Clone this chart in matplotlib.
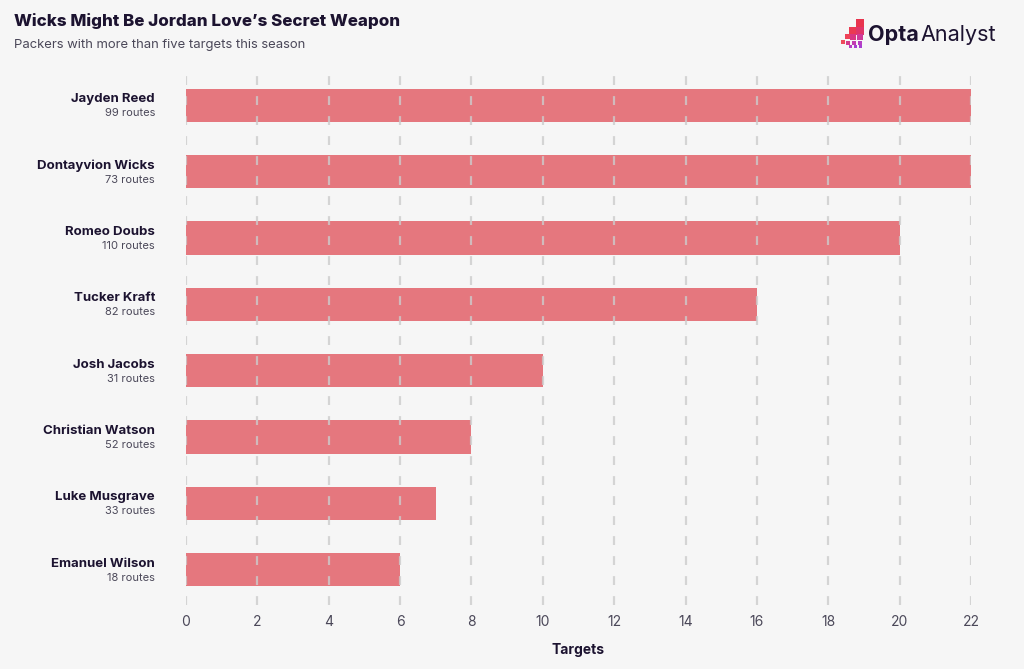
import matplotlib
matplotlib.use("Agg")
import matplotlib.pyplot as plt
from matplotlib.patches import Rectangle

players = ["Jayden Reed", "Dontayvion Wicks", "Romeo Doubs", "Tucker Kraft",
           "Josh Jacobs", "Christian Watson", "Luke Musgrave", "Emanuel Wilson"]
routes = [99, 73, 110, 82, 31, 52, 33, 18]
targets = [22, 22, 20, 16, 10, 8, 7, 6]
xticks = list(range(0, 23, 2))

BG = "#f6f6f6"
INK = "#1c1330"
GREY = "#4b4859"
BAR = "#e5737a"

plt.rcParams["font.family"] = ["Inter", "DejaVu Sans"]

fig = plt.figure(figsize=(10.24, 6.69), dpi=100, facecolor=BG)
ax = fig.add_axes([186 / 1024, 1 - 605 / 669, 785 / 1024, 535 / 669])
ax.set_facecolor(BG)

ypos = list(range(len(players)))
ax.barh(ypos, targets, height=0.5, color=BAR, alpha=0.97, zorder=2)

for x in xticks:
    ax.axvline(x, color="#cccccc", lw=1.6, ls=(0, (4, 5)), zorder=3, alpha=0.8)

ax.set_xlim(0, 22)
ax.set_ylim(len(players) - 0.465, -0.535)
ax.set_xticks(xticks)
ax.set_xticklabels([str(t) for t in xticks], fontsize=10, color=GREY)
ax.tick_params(axis="x", length=0, pad=7)
ax.set_yticks([])
for s in ax.spines.values():
    s.set_visible(False)

for y, name, r in zip(ypos, players, routes):
    ax.annotate(name, xy=(0, y), xycoords=("axes fraction", "data"),
                xytext=(-31, 6), textcoords="offset pixels",
                ha="right", va="center", fontsize=9.5, fontweight="bold", color=INK)
    ax.annotate(f"{r} routes", xy=(0, y), xycoords=("axes fraction", "data"),
                xytext=(-31, -8), textcoords="offset pixels",
                ha="right", va="center", fontsize=8, color=GREY)

ax.set_xlabel("Targets", fontsize=10, fontweight="bold", color=INK, labelpad=10)

fig.text(14 / 1024, 1 - 21 / 669, "Wicks Might Be Jordan Love\u2019s Secret Weapon",
         fontsize=12.2, fontweight="heavy", color=INK, va="center", ha="left")
fig.text(14 / 1024, 1 - 45 / 669, "Packers with more than five targets this season",
         fontsize=9.4, color=GREY, va="center", ha="left")

# logo mark
squares = [
    (856, 19, 8, "#e8344e"),
    (849, 27, 7, "#ea3a52"), (856, 27, 8, "#e0356a"),
    (845, 34, 5, "#ee4258"), (850, 34, 6, "#d93682"), (857, 34, 6, "#cf3a98"),
    (841, 40, 4, "#ee4a5a"), (846, 41, 4, "#d43a8c"), (852, 41, 4, "#c23cb0"), (858, 41, 4, "#b63ec4"),
    (849, 45, 3, "#b63ec4"), (854, 45, 3, "#a83fd0"), (859, 45, 3, "#a83fd0"),
]
for x0, y0, s, c in squares:
    fig.patches.append(Rectangle((x0 / 1024, 1 - (y0 + s) / 669), s / 1024, s / 669,
                                 transform=fig.transFigure, color=c, lw=0))
fig.text(868 / 1024, 1 - 35 / 669, "Opta", fontsize=15.5, fontweight="bold",
         color=INK, va="center", ha="left")
fig.text(920 / 1024, 1 - 35 / 669, "Analyst", fontsize=15.5,
         color=INK, va="center", ha="left")

fig.savefig("out.png", dpi=100, facecolor=BG)
